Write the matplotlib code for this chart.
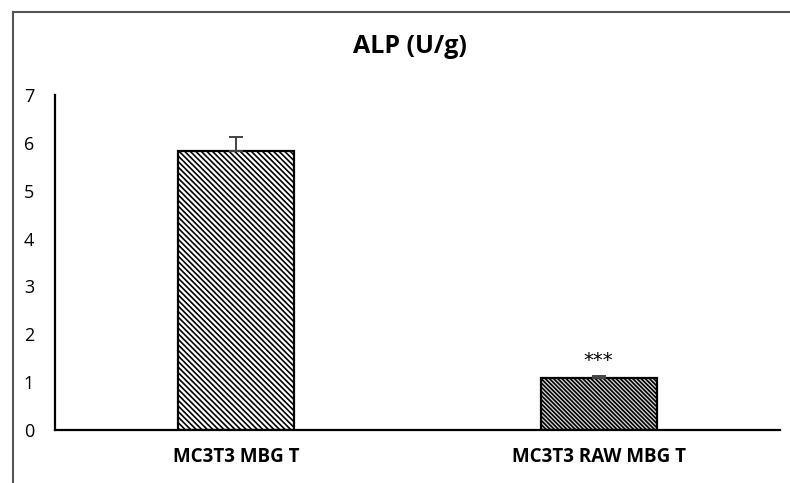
import matplotlib.pyplot as plt
from matplotlib.lines import Line2D

plt.rcParams['hatch.linewidth'] = 1.2

groups = ['MC3T3 MBG T', 'MC3T3 RAW MBG T']
alp = [5.82, 1.09]
alp_err = [0.3, 0.04]
stars = ['', '***']

fig = plt.figure(figsize=(7.9, 4.83), dpi=100)
ax = fig.add_axes([0.0696, 0.1097, 0.9174, 0.6936])

x = range(len(groups))
bars = ax.bar(x, alp, width=0.32, color='white', edgecolor='black', linewidth=1.6,
              zorder=2)
bars[0].set_hatch('\\\\\\\\\\\\')
bars[1].set_facecolor('#d8d8d8')
bars[1].set_hatch('\\\\\\\\\\\\\\\\')
ax.errorbar(x, alp, yerr=[[0, 0], alp_err], fmt='none', ecolor='#444444',
            elinewidth=1.4, capsize=5, capthick=1.4, zorder=3)

for xi, v, e, s in zip(x, alp, alp_err, stars):
    if s:
        ax.text(xi, v + e + 0.32, s, ha='center', va='center', fontsize=14,
                family='DejaVu Sans')

ax.set_xlim(-0.5, 1.5)
ax.set_ylim(0, 7)
ax.set_yticks(range(8))
ax.set_xticks(list(x))
ax.set_xticklabels(groups, fontsize=13.5, fontweight='bold', family='Open Sans')
for lab in ax.get_yticklabels():
    lab.set_family('Open Sans')
    lab.set_fontsize(13)
ax.tick_params(axis='both', length=0)
ax.tick_params(axis='y', pad=15)
ax.tick_params(axis='x', pad=12)
ax.spines['top'].set_visible(False)
ax.spines['right'].set_visible(False)
ax.spines['left'].set_linewidth(1.6)
ax.spines['bottom'].set_linewidth(1.6)

fig.text(0.519, 0.903, 'ALP (U/g)', ha='center', va='center', fontsize=18,
         fontweight='bold', family='Open Sans')

# outer frame (top and left edge of the chart box)
fig.add_artist(Line2D([13 / 790, 13 / 790], [0, 1 - 12 / 483], transform=fig.transFigure,
                      color='#555555', linewidth=1.5))
fig.add_artist(Line2D([13 / 790, 1], [1 - 12 / 483, 1 - 12 / 483], transform=fig.transFigure,
                      color='#555555', linewidth=1.5))

fig.savefig('out.png', dpi=100)
